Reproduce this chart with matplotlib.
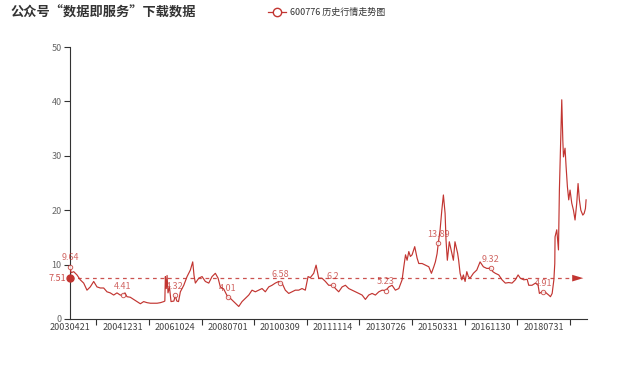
import matplotlib
matplotlib.use("Agg")
import matplotlib.pyplot as plt
from matplotlib.lines import Line2D
import numpy as np

plt.rcParams["font.family"] = ["Noto Sans CJK SC", "DejaVu Sans"]

RED = "#c23531"
AXIS = "#333333"

title = "公众号“数据即服务”下载数据"
series_name = "600776 历史行情走势图"

# trading-day index on the category axis and closing price
day = [
    0, 8, 28, 53, 78, 104, 129, 154, 180, 205, 230, 256, 281, 306, 332, 357,
    382, 400, 418, 433, 458, 484, 510, 535, 560, 586, 611, 636, 662, 687, 713,
    721, 725, 732, 738, 745, 756, 768, 790, 800, 812, 825, 839, 865, 890, 915,
    933, 943, 953, 979, 1004, 1029, 1055, 1080, 1105, 1126, 1143, 1169, 1200,
    1219, 1245, 1270, 1283, 1308, 1333, 1359, 1384, 1409, 1435, 1460, 1485,
    1511, 1536, 1561, 1587, 1600, 1612, 1637, 1663, 1688, 1713, 1739, 1764,
    1789, 1810, 1827, 1853, 1871, 1891, 1916, 1942, 1967, 2000, 2018, 2043,
    2069, 2094, 2119, 2145, 2170, 2196, 2221, 2246, 2271, 2297, 2322, 2348,
    2373, 2400, 2424, 2449, 2474, 2500, 2525, 2538, 2551, 2563, 2576, 2588,
    2601, 2621, 2639, 2652, 2677, 2702, 2728, 2748, 2766, 2778, 2791, 2800,
    2814, 2827, 2839, 2852, 2859, 2869, 2884, 2903, 2915, 2927, 2947, 2955,
    2966, 2979, 2991, 3004, 3017, 3029, 3042, 3067, 3093, 3118, 3143, 3169,
    3200, 3215, 3234, 3260, 3285, 3310, 3336, 3361, 3386, 3407, 3424, 3450,
    3476, 3488, 3513, 3539, 3559, 3569, 3590, 3600, 3615, 3640, 3653, 3666,
    3679, 3686, 3688, 3701, 3714, 3721, 3732, 3739, 3747, 3752, 3764, 3772,
    3782, 3792, 3802, 3815, 3828, 3840, 3853, 3863, 3873, 3884, 3899, 3909,
    3919, 3924,
]
price = [
    9.64, 8.5, 8.7, 8.1, 7.2, 6.6, 5.3, 5.9, 6.9, 5.9, 5.7, 5.7, 5.0, 4.8, 4.4,
    4.8, 4.4, 4.41, 4.8, 4.1, 4.0, 3.6, 3.2, 2.8, 3.2, 3.0, 2.9, 2.9, 2.9, 3.0,
    3.2, 3.3, 7.8, 5.6, 8.0, 4.8, 5.9, 3.2, 3.3, 4.32, 3.3, 3.2, 5.0, 6.2, 7.8,
    9.0, 10.5, 8.0, 6.6, 7.5, 7.8, 6.9, 6.6, 7.8, 8.4, 7.5, 5.9, 5.5, 4.01,
    3.8, 3.2, 2.6, 2.3, 3.2, 3.8, 4.4, 5.3, 5.0, 5.3, 5.6, 5.0, 5.9, 6.2, 6.6,
    6.9, 6.58, 6.6, 5.3, 4.7, 5.0, 5.3, 5.3, 5.6, 5.3, 7.8, 7.6, 8.4, 9.9,
    7.5, 7.5, 6.9, 6.2, 6.2, 5.6, 5.0, 5.9, 6.2, 5.6, 5.3, 5.0, 4.7, 4.4, 3.6,
    4.4, 4.7, 4.4, 5.0, 5.3, 5.23, 5.9, 6.2, 5.3, 5.6, 7.2, 9.6, 11.8, 10.8,
    12.4, 11.5, 11.8, 13.3, 11.2, 10.2, 10.2, 9.9, 9.6, 8.4, 9.6, 10.5, 12.0,
    13.89, 16.4, 20.0, 22.8, 19.4, 14.5, 10.8, 14.2, 12.1, 10.8, 14.2, 12.1,
    10.8, 8.4, 7.2, 8.1, 6.9, 8.7, 7.8, 7.5, 8.4, 9.0, 10.5, 9.6, 9.3, 9.32,
    8.7, 8.4, 8.1, 7.2, 6.6, 6.7, 6.6, 7.2, 8.1, 7.5, 7.2, 7.3, 6.2, 6.2, 6.6,
    6.2, 4.7, 5.0, 4.91, 4.9, 4.4, 4.1, 4.7, 7.2, 10.2, 15.1, 16.4, 12.7,
    23.7, 33.5, 40.3, 32.9, 29.8, 31.4, 28.0, 24.3, 21.9, 23.7, 21.3, 20.0,
    18.2, 21.3, 24.9, 21.9, 20.0, 19.1, 19.4, 20.3, 21.9,
]

label_days = [0, 400, 800, 1200, 1600, 2000, 2400, 2800, 3200, 3600]
label_dates = [
    "20030421", "20041231", "20061024", "20080701", "20100309",
    "20111114", "20130726", "20150331", "20161130", "20180731",
]
n_days = 3932
avg_price = 7.51

fig = plt.figure(figsize=(6.4, 3.67), dpi=100)
ax = fig.add_axes([0.1094, 0.1308, 0.8078, 0.7411])

ax.plot(day, price, color=RED, linewidth=0.85, zorder=3)

# average mark line with arrow
last_day = day[-1]
ax.plot([0, last_day - 50], [avg_price, avg_price], color=RED, linewidth=0.9,
        linestyle=(0, (3, 3)), alpha=0.85, zorder=2)
ax.annotate("", xy=(last_day, avg_price), xytext=(last_day - 70, avg_price),
            arrowprops=dict(arrowstyle="-|>,head_length=1.0,head_width=0.3",
                            color=RED, linewidth=0, mutation_scale=8),
            zorder=4)
ax.plot([0], [avg_price], "o", color=RED, markersize=5, clip_on=False, zorder=5)
ax.annotate(f"{avg_price:g}", xy=(0, avg_price), xytext=(-3, 0),
            textcoords="offset points", ha="right", va="center",
            fontsize=6.5, color=RED, alpha=0.85, annotation_clip=False)

# value marks at labelled dates
mark_vals = np.interp(label_days, day, price)
ax.plot(label_days, mark_vals, "o", markerfacecolor="white",
        markeredgecolor=RED, markersize=3.2, markeredgewidth=0.7,
        alpha=0.8, clip_on=False, zorder=4)
for d, v in zip(label_days, mark_vals):
    ax.annotate(f"{v:g}", xy=(d, v), xytext=(0, 3), textcoords="offset points",
                ha="center", va="bottom", fontsize=6.5, color=RED, alpha=0.75,
                annotation_clip=False)

ax.set_xlim(0, n_days - 1)
ax.set_ylim(0, 50)
ax.set_yticks([0, 10, 20, 30, 40, 50])

ax.set_xticks([d + 200 for d in label_days])
ax.set_xticklabels([])
ax.set_xticks(label_days, minor=True)
ax.set_xticklabels(label_dates, minor=True)
ax.tick_params(axis="x", which="major", length=4, color=AXIS, width=0.8)
ax.tick_params(axis="x", which="minor", length=0, pad=3, labelsize=6.5,
               labelcolor="#444444")
ax.tick_params(axis="y", length=4, color=AXIS, width=0.8, pad=2,
               labelsize=6.5, labelcolor="#666666")

for side in ("top", "right"):
    ax.spines[side].set_visible(False)
for side in ("left", "bottom"):
    ax.spines[side].set_color(AXIS)
    ax.spines[side].set_linewidth(0.8)

fig.text(0.016, 0.965, title, fontsize=9.5, fontweight="bold", color="#333333",
         ha="left", va="center")

proxy = Line2D([], [], color=RED, linewidth=0.9, marker="o",
               markerfacecolor="white", markeredgecolor=RED, markersize=6)
fig.legend([proxy], [series_name], loc="center", bbox_to_anchor=(0.51, 0.967),
           frameon=False, fontsize=6.5, handlelength=2.0, handletextpad=0.4,
           labelcolor="#333333")

fig.savefig("out.png", dpi=100)
